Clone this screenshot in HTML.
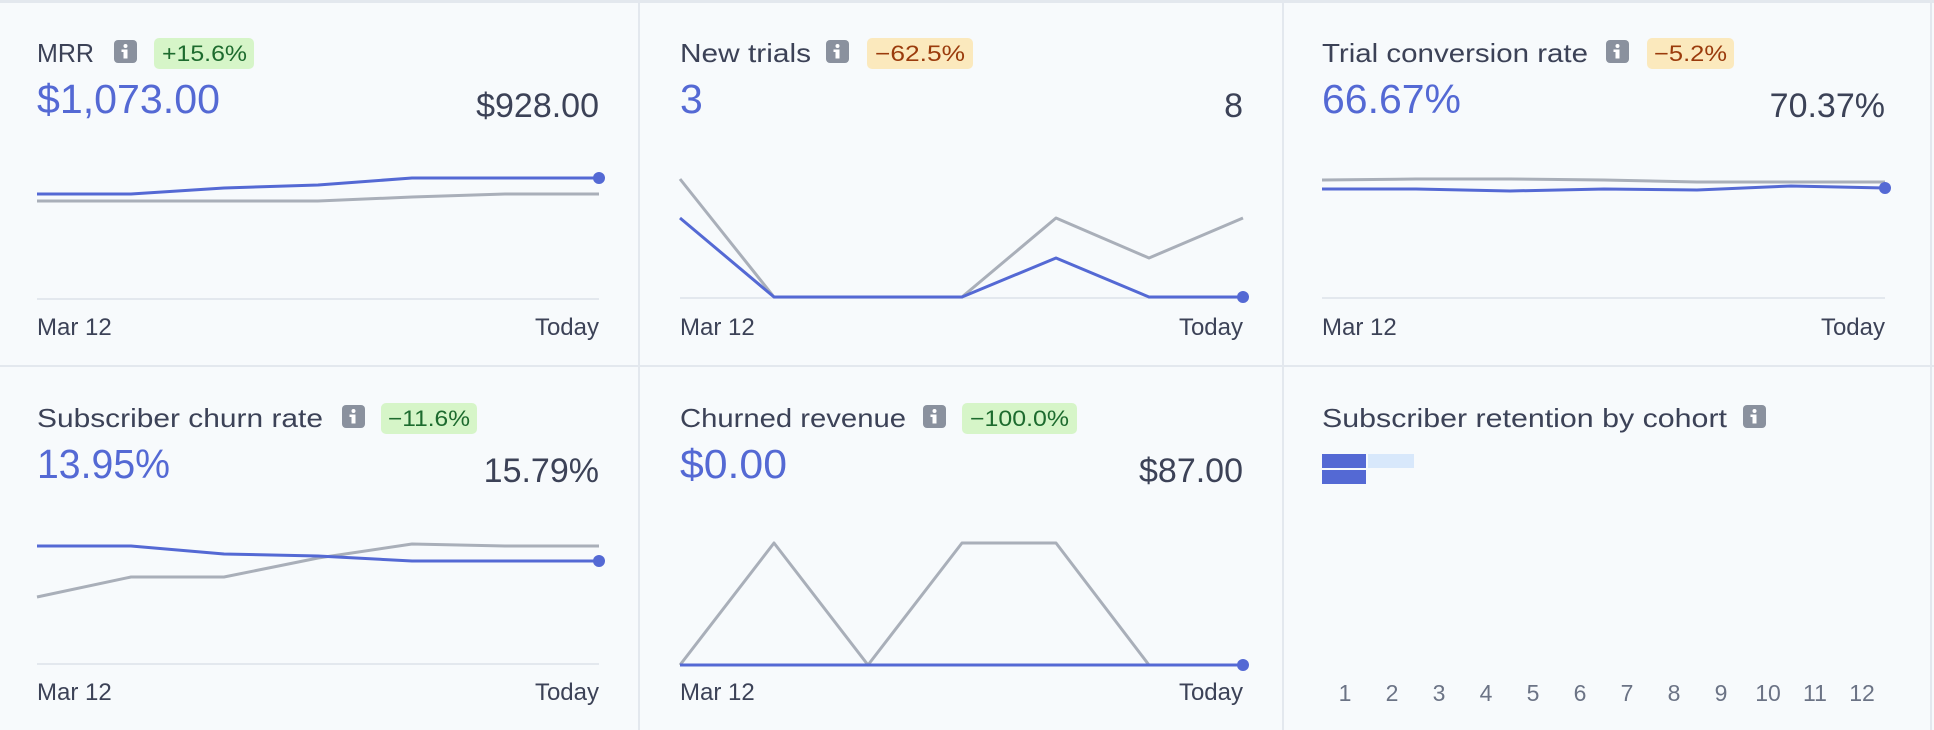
<!DOCTYPE html>
<html><head><meta charset="utf-8"><style>
html,body{margin:0;padding:0;background:#f7fafc;}
svg{display:block;font-family:"Liberation Sans",sans-serif;}
.t{font-size:26px;fill:#3c4257;}
.big{font-size:41px;fill:#5469d4;}
.rv{font-size:34px;fill:#3c4257;text-anchor:end;}
.ax{font-size:24px;fill:#3c4257;}
.axr{font-size:24px;fill:#3c4257;text-anchor:end;}
.bg{font-size:22px;fill:#1d6b2e;}
.bo{font-size:22px;fill:#9a3b0c;}
.ci{font-size:23px;fill:#6b7385;text-anchor:middle;}
.b{fill:none;stroke:#5469d4;stroke-width:3;stroke-linejoin:round;}
.g{fill:none;stroke:#a9afb9;stroke-width:3;stroke-linejoin:round;}
.axl{stroke:#e3e8ee;stroke-width:2;}
</style></head><body>
<svg width="1934" height="730" viewBox="0 0 1934 730">
<rect width="1934" height="730" fill="#f7fafc"/>
<rect x="0" y="0" width="1934" height="3" fill="#e3e8ee"/>
<line x1="639" y1="0" x2="639" y2="730" stroke="#e3e8ee" stroke-width="2"/>
<line x1="1283" y1="0" x2="1283" y2="730" stroke="#e3e8ee" stroke-width="2"/>
<line x1="0" y1="366" x2="1934" y2="366" stroke="#e3e8ee" stroke-width="2"/>
<line x1="1931" y1="0" x2="1931" y2="730" stroke="#e3e8ee" stroke-width="2"/>

<defs>
<g id="info"><rect x="0" y="0" width="23" height="23" rx="4" fill="#8a919e"/><circle cx="11.5" cy="6" r="2" fill="#fff"/><rect x="9.5" y="9.5" width="4" height="9" fill="#fff"/><rect x="7.5" y="9.5" width="3" height="2.5" fill="#fff"/></g>
</defs>

<!-- Panel 1 -->
<text class="t" x="37" y="62" textLength="57" lengthAdjust="spacingAndGlyphs">MRR</text>
<use href="#info" x="114" y="40"/>
<rect x="154" y="38" width="100" height="31" rx="5" fill="#d6f5c8"/>
<text class="bg" x="162" y="61" textLength="85" lengthAdjust="spacingAndGlyphs">+15.6%</text>
<text class="big" x="37" y="113" textLength="183" lengthAdjust="spacingAndGlyphs">$1,073.00</text>
<text class="rv" x="599" y="117">$928.00</text>
<line class="axl" x1="37" y1="299" x2="599" y2="299"/>
<polyline class="g" points="37,201 131,201 224,201 318,201 412,197 505,194 599,194"/>
<polyline class="b" points="37,194 131,194 224,188 318,185 412,178 505,178 599,178"/>
<circle cx="599" cy="178" r="6" fill="#5469d4"/>
<text class="ax" x="37" y="335">Mar 12</text>
<text class="axr" x="599" y="335">Today</text>

<!-- Panel 2 -->
<text class="t" x="680" y="62" textLength="131" lengthAdjust="spacingAndGlyphs">New trials</text>
<use href="#info" x="826" y="40"/>
<rect x="867" y="38" width="106" height="31" rx="5" fill="#fbe9bd"/>
<text class="bo" x="875" y="61" textLength="90" lengthAdjust="spacingAndGlyphs">−62.5%</text>
<text class="big" x="680" y="113">3</text>
<text class="rv" x="1243" y="117">8</text>
<line class="axl" x1="680" y1="298" x2="1243" y2="298"/>
<polyline class="g" points="680,179 774,297 868,297 962,297 1056,218 1149,258 1243,218"/>
<polyline class="b" points="680,218 774,297 868,297 962,297 1056,258 1149,297 1243,297"/>
<circle cx="1243" cy="297" r="6" fill="#5469d4"/>
<text class="ax" x="680" y="335">Mar 12</text>
<text class="axr" x="1243" y="335">Today</text>

<!-- Panel 3 -->
<text class="t" x="1322" y="62" textLength="266" lengthAdjust="spacingAndGlyphs">Trial conversion rate</text>
<use href="#info" x="1606" y="40"/>
<rect x="1647" y="38" width="87" height="31" rx="5" fill="#fbe9bd"/>
<text class="bo" x="1654" y="61" textLength="73" lengthAdjust="spacingAndGlyphs">−5.2%</text>
<text class="big" x="1322" y="113" textLength="139" lengthAdjust="spacingAndGlyphs">66.67%</text>
<text class="rv" x="1885" y="117">70.37%</text>
<line class="axl" x1="1322" y1="298" x2="1885" y2="298"/>
<polyline class="g" points="1322,180 1416,179 1510,179 1604,180 1697,182 1791,182 1885,182"/>
<polyline class="b" points="1322,189 1416,189 1510,191 1604,189 1697,190 1791,186 1885,188"/>
<circle cx="1885" cy="188" r="6" fill="#5469d4"/>
<text class="ax" x="1322" y="335">Mar 12</text>
<text class="axr" x="1885" y="335">Today</text>

<!-- Panel 4 -->
<text class="t" x="37" y="427" textLength="286" lengthAdjust="spacingAndGlyphs">Subscriber churn rate</text>
<use href="#info" x="342" y="405"/>
<rect x="381" y="403" width="96" height="31" rx="5" fill="#d6f5c8"/>
<text class="bg" x="388" y="426" textLength="82" lengthAdjust="spacingAndGlyphs">−11.6%</text>
<text class="big" x="37" y="478" textLength="133" lengthAdjust="spacingAndGlyphs">13.95%</text>
<text class="rv" x="599" y="482">15.79%</text>
<line class="axl" x1="37" y1="664" x2="599" y2="664"/>
<polyline class="g" points="37,597 131,577 224,577 318,558 412,544 505,546 599,546"/>
<polyline class="b" points="37,546 131,546 224,554 318,556 412,561 505,561 599,561"/>
<circle cx="599" cy="561" r="6" fill="#5469d4"/>
<text class="ax" x="37" y="700">Mar 12</text>
<text class="axr" x="599" y="700">Today</text>

<!-- Panel 5 -->
<text class="t" x="680" y="427" textLength="226" lengthAdjust="spacingAndGlyphs">Churned revenue</text>
<use href="#info" x="923" y="405"/>
<rect x="962" y="403" width="115" height="31" rx="5" fill="#d6f5c8"/>
<text class="bg" x="970" y="426" textLength="99" lengthAdjust="spacingAndGlyphs">−100.0%</text>
<text class="big" x="680" y="478" textLength="107" lengthAdjust="spacingAndGlyphs">$0.00</text>
<text class="rv" x="1243" y="482">$87.00</text>
<polyline class="g" points="680,665 774,543 868,665 962,543 1056,543 1149,665 1243,665"/>
<polyline class="b" points="680,665 774,665 868,665 962,665 1056,665 1149,665 1243,665"/>
<circle cx="1243" cy="665" r="6" fill="#5469d4"/>
<text class="ax" x="680" y="700">Mar 12</text>
<text class="axr" x="1243" y="700">Today</text>

<!-- Panel 6 -->
<text class="t" x="1322" y="427" textLength="405" lengthAdjust="spacingAndGlyphs">Subscriber retention by cohort</text>
<use href="#info" x="1743" y="405"/>
<rect x="1322" y="454" width="44" height="14" fill="#5469d4"/>
<rect x="1368" y="454" width="46" height="14" fill="#d8e8fb"/>
<rect x="1322" y="470" width="44" height="14" fill="#5469d4"/>
<text class="ci" x="1345" y="701">1</text>
<text class="ci" x="1392" y="701">2</text>
<text class="ci" x="1439" y="701">3</text>
<text class="ci" x="1486" y="701">4</text>
<text class="ci" x="1533" y="701">5</text>
<text class="ci" x="1580" y="701">6</text>
<text class="ci" x="1627" y="701">7</text>
<text class="ci" x="1674" y="701">8</text>
<text class="ci" x="1721" y="701">9</text>
<text class="ci" x="1768" y="701">10</text>
<text class="ci" x="1815" y="701">11</text>
<text class="ci" x="1862" y="701">12</text>
</svg>
</body></html>
